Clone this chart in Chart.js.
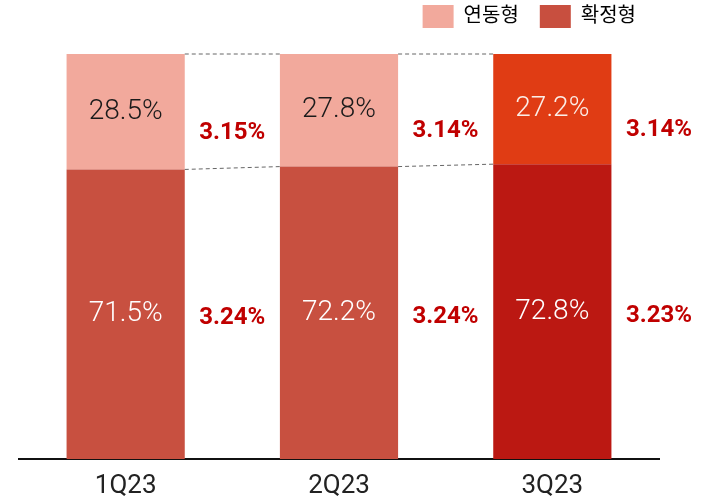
<!DOCTYPE html>
<html><head><meta charset="utf-8">
<script src="https://cdn.jsdelivr.net/npm/chart.js@4/dist/chart.umd.min.js"></script>
<style>html,body{margin:0;padding:0;background:#fff}#wrap{width:709px;height:500px}</style>
</head><body><div id="wrap"><canvas id="c" width="709" height="500"></canvas></div>
<script>
const categories = ['1Q23','2Q23','3Q23'];
const floating = [28.5, 27.8, 27.2];   // 연동형
const fixed = [71.5, 72.2, 72.8];      // 확정형
const floatingRate = ['3.15%','3.14%','3.14%'];
const fixedRate = ['3.24%','3.24%','3.23%'];
const seriesNames = ['연동형','확정형'];

const FONT = "Roboto, 'Noto Sans CJK KR', sans-serif";
const floatColors = ['#F2A99C','#F2A99C','#E03C14'];
const fixedColors = ['#C85040','#C85040','#BB1812'];

const legendTweak = {
  id: 'legendTweak',
  beforeLayout(chart) {
    const lg = chart.legend;
    if (lg && !lg._patched) {
      const f = lg.fit;
      lg.fit = function () { f.call(this); this.height = 52; };
      lg._patched = true;
    }
  },
  afterLayout(chart) {
    const lg = chart.legend;
    if (lg) { lg.top -= 18; lg.bottom -= 18; lg.left -= 2; lg.right -= 2; }
  }
};

const overlay = {
  id: 'overlay',
  afterDatasetsDraw(chart) {
    const ctx = chart.ctx;
    const y = chart.scales.y;
    const m0 = chart.getDatasetMeta(0).data;
    ctx.save();
    ctx.strokeStyle = '#666';
    ctx.lineWidth = 1;
    ctx.setLineDash([4,3]);
    for (let i = 0; i < categories.length - 1; i++) {
      const a = m0[i], b = m0[i+1];
      const xr = a.x + a.width/2, xl = b.x - b.width/2;
      ctx.beginPath();
      ctx.moveTo(xr, y.getPixelForValue(100)); ctx.lineTo(xl, y.getPixelForValue(100));
      ctx.moveTo(xr, y.getPixelForValue(fixed[i])); ctx.lineTo(xl, y.getPixelForValue(fixed[i+1]));
      ctx.stroke();
    }
    ctx.setLineDash([]);
    ctx.textAlign = 'center';
    ctx.textBaseline = 'middle';
    for (let i = 0; i < categories.length; i++) {
      const bar = m0[i];
      const yb = y.getPixelForValue(0), yBound = y.getPixelForValue(fixed[i]), yTop = y.getPixelForValue(100);
      const cBot = (yb + yBound)/2, cTop = (yBound + yTop)/2;
      ctx.font = '300 28px ' + FONT;
      ctx.fillStyle = '#fff';
      ctx.fillText(fixed[i].toFixed(1) + '%', bar.x, cBot);
      ctx.fillStyle = i === 2 ? '#fbeee8' : '#1a1a1a';
      ctx.fillText(floating[i].toFixed(1) + '%', bar.x, cTop);
      const gap = 95;
      const xr = bar.x + bar.width/2 + gap/2;
      ctx.font = 'bold 24px ' + FONT;
      ctx.fillStyle = '#C00000';
      ctx.fillText(floatingRate[i], xr, cTop + 21);
      ctx.fillText(fixedRate[i], xr, cBot + 4);
    }
    ctx.restore();
  }
};

new Chart(document.getElementById('c'), {
  type: 'bar',
  data: {
    labels: categories,
    datasets: [
      { label: seriesNames[1], data: fixed, backgroundColor: fixedColors, categoryPercentage: 1, barPercentage: 0.554 },
      { label: seriesNames[0], data: floating, backgroundColor: floatColors, categoryPercentage: 1, barPercentage: 0.554 }
    ]
  },
  options: {
    responsive: false,
    animation: false,
    layout: { padding: { left: 19, right: 50, top: 2, bottom: 0 } },
    plugins: {
      tooltip: { enabled: false },
      legend: {
        position: 'top', align: 'end',
        labels: {
          boxWidth: 31, boxHeight: 23, padding: 21,
          color: '#222',
          font: { size: 20, family: FONT },
          generateLabels: () => [
            { text: seriesNames[0], fillStyle: '#F2A99C', strokeStyle: '#F2A99C', lineWidth: 0, datasetIndex: 1 },
            { text: seriesNames[1], fillStyle: '#C84F3F', strokeStyle: '#C84F3F', lineWidth: 0, datasetIndex: 0 }
          ]
        }
      }
    },
    scales: {
      x: {
        stacked: true,
        grid: { display: false, drawTicks: false, tickLength: 0 },
        border: { color: '#111', width: 2 },
        ticks: { color: '#222', font: { size: 26, family: FONT }, padding: 12 },
        afterFit(scale) { scale.height = 41; }
      },
      y: { stacked: true, display: false, min: 0, max: 100 }
    }
  },
  plugins: [overlay, legendTweak]
});
</script>
</body></html>
